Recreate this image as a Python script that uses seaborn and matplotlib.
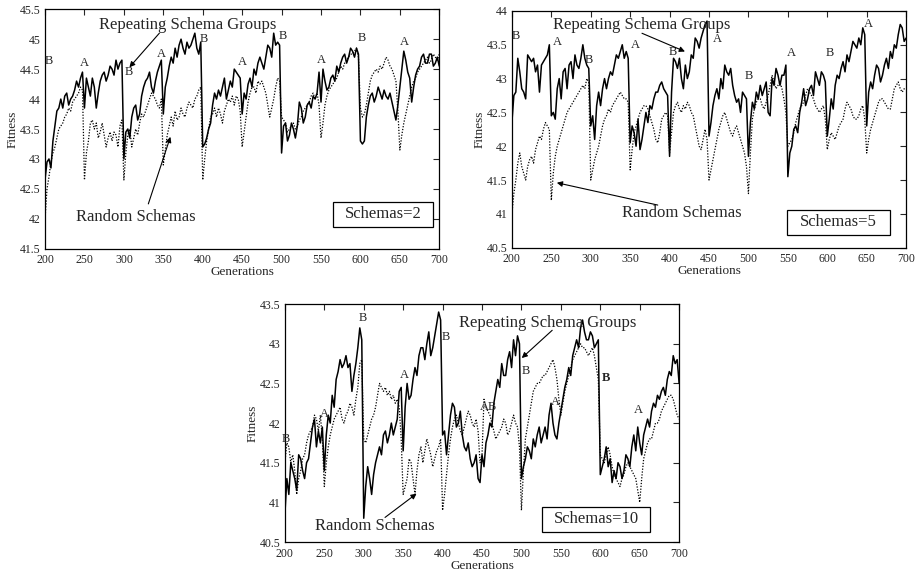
import numpy as np
import pandas as pd
import matplotlib
matplotlib.use('Agg')
import matplotlib.pyplot as plt
from matplotlib.patches import Rectangle
import seaborn as sns

# generations sampled every 5, plus in-between readings at +2.5
GENS = np.arange(200, 701, 5)
GENS_MID = np.arange(202.5, 700, 5)

S2_REPEAT = [42.66, 43.0, 43.3, 43.8, 44.0, 44.05, 43.9, 44.05, 44.3, 44.35,
             43.85, 44.2, 44.35, 43.85, 44.3, 44.45, 44.4, 44.5, 44.65, 44.6,
             43.0, 43.5, 43.7, 43.9, 43.75, 44.2, 44.35, 44.2, 44.3, 44.55,
             43.75, 44.35, 44.7, 44.85, 44.9, 44.85, 44.95, 44.9, 45.1, 44.75,
             43.2, 43.35, 43.6, 44.1, 44.15, 44.2, 44.0, 44.3, 44.5, 44.4,
             43.75, 44.0, 44.35, 44.5, 44.6, 44.6, 44.7, 44.85, 45.1, 44.95,
             43.1, 43.6, 43.4, 43.5, 43.55, 43.85, 43.7, 43.95, 44.05, 44.1,
             43.95, 44.3, 44.2, 44.4, 44.55, 44.6, 44.75, 44.7, 44.8, 44.85,
             43.3, 43.3, 43.9, 44.1, 44.05, 44.1, 44.15, 44.0, 43.95, 43.65,
             44.2, 44.8, 44.45, 43.95, 44.4, 44.55, 44.75, 44.6, 44.75, 44.6,
             44.55]
S2_REPEAT_MID = [42.95, 42.85, 43.55, 43.85, 43.85, 44.1, 44.0, 44.15, 44.2, 44.45,
                 44.35, 44.05, 44.2, 44.1, 44.4, 44.3, 44.55, 44.4, 44.5, 44.65,
                 43.45, 43.35, 43.85, 43.65, 44.05, 44.3, 44.45, 44.1, 44.45, 44.65,
                 44.2, 44.55, 44.6, 44.7, 45.0, 44.75, 44.85, 45.0, 44.85, 44.95,
                 43.25, 43.5, 43.9, 44.0, 44.05, 44.35, 44.15, 44.2, 44.45, 44.35,
                 44.1, 44.25, 44.2, 44.4, 44.7, 44.5, 44.9, 44.7, 44.9, 44.9,
                 43.55, 43.3, 43.6, 43.35, 43.95, 43.6, 43.9, 43.85, 44.0, 44.45,
                 44.5, 44.15, 44.35, 44.3, 44.45, 44.7, 44.6, 44.85, 44.7, 44.75,
                 43.25, 43.7, 44.05, 43.95, 44.2, 44.0, 44.05, 44.1, 43.8, 43.9,
                 44.5, 44.65, 44.35, 44.2, 44.5, 44.7, 44.6, 44.75, 44.55, 44.7]
S2_RANDOM = [42.0, 42.7, 43.1, 43.35, 43.55, 43.7, 43.85, 43.95, 44.05, 44.2,
             42.65, 43.3, 43.65, 43.6, 43.45, 43.4, 43.35, 43.3, 43.4, 43.55,
             42.65, 43.4, 43.2, 43.5, 43.6, 43.7, 43.9, 44.1, 44.0, 43.85,
             42.9, 43.4, 43.7, 43.8, 43.7, 43.75, 43.85, 43.9, 44.0, 44.15,
             42.65, 43.3, 43.7, 43.85, 43.85, 43.6, 43.9, 43.95, 43.9, 44.0,
             43.2, 43.7, 44.1, 44.2, 44.3, 44.3, 44.1, 43.7, 44.0, 44.35,
             43.7, 43.6, 43.5, 43.6, 43.55, 43.7, 43.85, 43.95, 44.1, 44.1,
             43.35, 43.9, 44.15, 44.25, 44.35, 44.55, 44.6, 44.7, 44.75, 44.85,
             43.85, 43.75, 44.1, 44.4, 44.5, 44.55, 44.6, 44.65, 44.5, 44.3,
             43.15, 43.6, 43.9, 44.2, 44.35, 44.5, 44.6, 44.7, 44.65, 44.7,
             44.75]
S2_RANDOM_MID = [42.5, 42.95, 43.2, 43.5, 43.6, 43.75, 43.8, 44.0, 44.1, 44.15,
                 43.1, 43.6, 43.5, 43.35, 43.6, 43.2, 43.45, 43.45, 43.2, 43.65,
                 43.1, 43.5, 43.35, 43.4, 43.75, 43.8, 44.0, 44.05, 43.9, 44.0,
                 43.15, 43.55, 43.55, 43.65, 43.85, 43.7, 43.95, 43.85, 44.05, 44.2,
                 43.0, 43.5, 43.75, 43.7, 43.75, 43.8, 44.0, 44.05, 44.05, 43.8,
                 43.45, 43.95, 44.2, 44.1, 44.25, 44.2, 43.9, 43.85, 44.2, 44.3,
                 43.65, 43.45, 43.55, 43.5, 43.65, 43.8, 43.9, 44.05, 44.0, 43.9,
                 43.6, 44.05, 44.2, 44.3, 44.45, 44.5, 44.65, 44.75, 44.8, 44.7,
                 43.7, 43.9, 44.3, 44.45, 44.45, 44.5, 44.7, 44.55, 44.4, 43.8,
                 43.4, 43.75, 44.05, 44.3, 44.45, 44.55, 44.65, 44.6, 44.75, 44.65]

S5_REPEAT = [42.35, 42.8, 43.1, 42.8, 43.35, 43.25, 43.1, 42.8, 43.25, 43.35,
             42.45, 42.4, 43.0, 43.1, 42.85, 43.25, 43.35, 43.15, 43.5, 43.2,
             42.3, 42.1, 42.8, 42.85, 42.85, 43.1, 43.2, 43.3, 43.5, 43.4,
             42.05, 42.2, 42.4, 42.1, 42.5, 42.6, 42.7, 42.8, 42.95, 42.8,
             41.85, 43.3, 43.15, 43.0, 43.2, 43.1, 43.3, 43.55, 43.6, 43.8,
             42.15, 42.6, 42.85, 43.0, 43.2, 43.05, 42.9, 42.65, 42.5, 42.75,
             41.85, 42.65, 42.8, 42.9, 42.85, 42.5, 43.0, 43.15, 42.9, 43.05,
             41.55, 42.0, 42.3, 42.5, 42.85, 42.7, 42.9, 43.1, 42.9, 43.05,
             42.15, 42.7, 42.9, 43.0, 43.25, 43.35, 43.4, 43.5, 43.6, 43.75,
             42.3, 42.95, 43.05, 43.15, 43.05, 43.3, 43.4, 43.5, 43.65, 43.75,
             43.6]
S5_REPEAT_MID = [42.75, 43.3, 42.85, 42.7, 43.3, 43.3, 43.2, 43.2, 43.3, 43.5,
                 42.5, 42.85, 42.7, 43.15, 43.2, 43.0, 43.2, 43.3, 43.3, 43.15,
                 42.45, 42.6, 42.6, 43.0, 43.0, 43.05, 43.35, 43.4, 43.3, 43.3,
                 42.3, 42.0, 41.95, 42.3, 42.35, 42.55, 42.8, 42.9, 42.85, 42.75,
                 42.8, 43.25, 43.3, 42.85, 43.0, 43.35, 43.6, 43.45, 43.7, 43.85,
                 42.35, 42.75, 42.7, 42.85, 43.1, 43.15, 42.75, 42.7, 42.8, 42.7,
                 42.35, 42.55, 42.7, 42.75, 42.95, 42.45, 42.9, 43.05, 43.05, 43.2,
                 41.9, 42.25, 42.2, 42.65, 42.6, 42.85, 42.75, 43.0, 43.1, 42.95,
                 42.4, 42.55, 43.05, 43.15, 43.1, 43.25, 43.55, 43.45, 43.5, 43.65,
                 42.8, 42.85, 43.2, 42.95, 43.2, 43.15, 43.3, 43.45, 43.8, 43.55]
S5_RANDOM = [41.0, 41.5, 41.9, 41.6, 41.7, 41.85, 41.95, 42.15, 42.25, 42.3,
             41.2, 41.85, 42.1, 42.3, 42.5, 42.6, 42.7, 42.8, 42.9, 43.0,
             41.5, 41.8, 42.0, 42.3, 42.45, 42.5, 42.65, 42.75, 42.75, 42.7,
             41.65, 42.2, 42.4, 42.55, 42.6, 42.45, 42.25, 42.05, 42.4, 42.5,
             41.9, 42.5, 42.65, 42.5, 42.55, 42.6, 42.45, 42.15, 41.95, 42.25,
             41.5, 41.8, 42.1, 42.35, 42.5, 42.3, 42.15, 42.3, 42.1, 41.9,
             41.3, 42.4, 42.65, 42.7, 42.55, 42.75, 43.05, 42.85, 42.95, 42.7,
             42.0, 42.1, 42.35, 42.55, 42.65, 42.85, 42.75, 42.6, 42.5, 42.6,
             41.95, 42.2, 42.1, 42.3, 42.4, 42.65, 42.55, 42.4, 42.45, 42.6,
             41.9, 42.25, 42.45, 42.65, 42.7, 42.6, 42.55, 42.85, 42.95, 42.8,
             42.85]
S5_RANDOM_MID = [41.3, 41.75, 41.7, 41.5, 41.8, 41.75, 42.05, 42.1, 42.35, 42.25,
                 41.6, 42.0, 42.2, 42.4, 42.55, 42.65, 42.75, 42.85, 42.85, 42.95,
                 41.65, 41.9, 42.15, 42.4, 42.55, 42.6, 42.7, 42.8, 42.7, 42.65,
                 41.95, 42.3, 42.5, 42.6, 42.55, 42.35, 42.1, 42.2, 42.45, 42.45,
                 42.2, 42.6, 42.55, 42.6, 42.65, 42.5, 42.3, 42.0, 42.1, 42.1,
                 41.65, 41.95, 42.25, 42.45, 42.4, 42.2, 42.25, 42.2, 42.0, 41.7,
                 41.9, 42.55, 42.7, 42.6, 42.65, 42.9, 42.95, 42.9, 42.85, 42.5,
                 42.05, 42.2, 42.45, 42.6, 42.75, 42.8, 42.7, 42.55, 42.55, 42.4,
                 42.1, 42.15, 42.2, 42.35, 42.55, 42.6, 42.45, 42.4, 42.55, 42.4,
                 42.1, 42.35, 42.55, 42.7, 42.65, 42.55, 42.7, 42.9, 42.85, 42.85]

S10_REPEAT = [40.85, 41.1, 41.4, 41.15, 41.55, 41.3, 41.55, 41.95, 41.7, 41.75,
              41.4, 42.1, 42.35, 42.55, 42.8, 42.75, 42.7, 42.4, 42.75, 43.2,
              40.8, 41.45, 41.1, 41.5, 41.7, 41.85, 41.75, 42.0, 41.95, 42.4,
              41.65, 42.5, 42.35, 42.7, 42.85, 42.95, 43.0, 42.85, 43.1, 43.4,
              41.85, 41.6, 42.1, 42.2, 42.0, 41.85, 41.65, 41.55, 41.5, 41.3,
              41.6, 41.75, 42.0, 42.25, 42.55, 42.75, 42.6, 42.9, 43.05, 43.1,
              41.3, 41.55, 41.65, 41.8, 41.85, 41.75, 41.95, 42.1, 42.0, 41.8,
              42.15, 42.45, 42.7, 42.85, 43.05, 43.2, 43.15, 43.05, 43.1, 43.0,
              41.35, 41.55, 41.45, 41.25, 41.3, 41.45, 41.4, 41.55, 41.7, 41.65,
              41.75, 41.85, 42.05, 42.15, 42.2, 42.3, 42.45, 42.55, 42.6, 42.75,
              42.5]
S10_REPEAT_MID = [41.3, 41.5, 41.3, 41.6, 41.4, 41.5, 41.75, 42.05, 41.9, 41.95,
                  41.85, 42.0, 42.2, 42.65, 42.7, 42.85, 42.75, 42.6, 42.95, 43.05,
                  41.2, 41.3, 41.35, 41.6, 41.6, 41.9, 41.85, 41.85, 42.05, 42.45,
                  42.2, 42.3, 42.55, 42.6, 42.95, 42.8, 43.15, 42.95, 43.25, 43.3,
                  41.9, 41.85, 42.25, 41.95, 42.15, 41.7, 41.75, 41.45, 41.6, 41.25,
                  41.45, 41.85, 41.95, 42.4, 42.45, 42.6, 42.8, 42.7, 42.85, 43.0,
                  41.45, 41.7, 41.55, 41.7, 41.95, 41.85, 41.8, 42.25, 41.85, 42.0,
                  42.3, 42.55, 42.6, 42.95, 42.95, 43.3, 43.05, 43.15, 42.95, 43.05,
                  41.45, 41.7, 41.55, 41.4, 41.5, 41.3, 41.6, 41.45, 41.85, 41.95,
                  41.6, 41.95, 41.95, 42.25, 42.35, 42.4, 42.35, 42.65, 42.85, 42.8]
S10_RANDOM = [41.5, 41.7, 41.6, 41.1, 41.4, 41.6, 41.85, 41.95, 42.05, 42.1,
              41.2, 41.7, 41.95, 42.1, 42.2, 42.0, 42.15, 42.2, 42.3, 42.75,
              41.8, 41.85, 42.05, 42.2, 42.5, 42.4, 42.35, 42.3, 42.25, 42.2,
              41.1, 41.3, 41.5, 41.1, 41.6, 41.5, 41.8, 41.6, 41.55, 41.7,
              40.9, 41.35, 41.8, 42.05, 42.0, 41.85, 42.05, 42.1, 41.95, 41.9,
              41.6, 42.2, 42.1, 41.9, 41.85, 41.95, 42.0, 41.9, 42.1, 41.95,
              40.9, 41.8, 42.1, 42.4, 42.5, 42.55, 42.6, 42.7, 42.8, 42.55,
              42.1, 42.4, 42.6, 42.8, 42.9, 43.0, 42.95, 42.85, 42.95, 42.7,
              41.6, 41.5, 41.7, 41.45, 41.3, 41.2, 41.35, 41.5, 41.4, 41.3,
              41.0, 41.55, 41.75, 41.8, 42.0, 42.05, 42.2, 42.3, 42.35, 42.2,
              42.05]
S10_RANDOM_MID = [41.75, 41.5, 41.4, 41.3, 41.55, 41.75, 41.9, 42.1, 41.9, 41.8,
                  41.5, 41.85, 42.05, 42.15, 42.05, 42.1, 42.25, 42.1, 42.45, 42.8,
                  41.75, 41.95, 42.1, 42.35, 42.45, 42.45, 42.4, 42.35, 42.3, 41.8,
                  41.2, 41.55, 41.3, 41.4, 41.7, 41.65, 41.7, 41.45, 41.65, 41.8,
                  41.1, 41.6, 41.95, 42.1, 41.9, 41.95, 42.15, 42.0, 42.05, 41.5,
                  42.3, 42.15, 42.0, 41.8, 41.9, 42.05, 41.85, 42.0, 42.0, 41.7,
                  41.4, 41.95, 42.25, 42.45, 42.5, 42.6, 42.65, 42.75, 42.7, 42.3,
                  42.25, 42.5, 42.7, 42.85, 42.95, 42.95, 42.9, 42.9, 42.85, 42.55,
                  41.55, 41.6, 41.6, 41.35, 41.25, 41.3, 41.45, 41.45, 41.35, 41.15,
                  41.3, 41.65, 41.8, 41.9, 42.0, 42.15, 42.25, 42.35, 42.3, 42.1]

SCHEMAS = ['Schemas=2', 'Schemas=5', 'Schemas=10']


def series_frame(main, mid):
    df = pd.concat([pd.DataFrame({'gen': GENS, 'fit': main}),
                    pd.DataFrame({'gen': GENS_MID, 'fit': mid})])
    return df.sort_values('gen').reset_index(drop=True)


def draw_panel(ax, rep, rep_mid, rand, rand_mid, ylim, yticks, marks, notes, box):
    sns.lineplot(data=series_frame(rand, rand_mid), x='gen', y='fit', ax=ax, color='black',
                 linestyle=(0, (1, 1.3)), linewidth=0.9, sort=False)
    sns.lineplot(data=series_frame(rep, rep_mid), x='gen', y='fit', ax=ax, color='black',
                 linewidth=1.1, sort=False)
    ax.set_xlim(200, 700)
    ax.set_ylim(*ylim)
    ax.set_xticks(range(200, 701, 50))
    ax.set_yticks(yticks)
    ax.set_yticklabels([f'{t:g}' for t in yticks])
    ax.tick_params(direction='in', top=True, right=True, labelsize=8.5, length=4, width=0.8)
    ax.tick_params(axis='x', pad=4)
    ax.tick_params(axis='y', pad=3)
    ax.set_xlabel('Generations', fontsize=9.5, labelpad=0)
    ax.set_ylabel('Fitness', fontsize=9.5, labelpad=1)
    for sp in ax.spines.values():
        sp.set_linewidth(0.9)
        sp.set_color('black')
    for g, v, t, w in marks:
        ax.text(g, v, t, fontsize=9, ha='center', va='center', fontweight=w)
    arrow = dict(arrowstyle='-|>', color='black', lw=0.8, mutation_scale=8, shrinkA=0, shrinkB=0)
    for txt, pos, start, end in notes:
        ax.text(pos[0], pos[1], txt, fontsize=12, ha='center', va='center')
        ax.annotate('', xy=end, xytext=start, arrowprops=arrow)
    (x0, x1, y0, y1), label = box
    ax.add_patch(Rectangle((x0, y0), x1 - x0, y1 - y0, fill=True, fc='white', ec='black', lw=0.9, zorder=3))
    ax.text((x0 + x1) / 2, (y0 + y1) / 2, label, fontsize=12, ha='center', va='center', zorder=4)


sns.set_style('white')
plt.rcParams['font.family'] = ['Liberation Serif', 'DejaVu Serif']

fig = plt.figure(figsize=(9.19, 5.76), dpi=100)
ax1 = fig.add_axes([0.049, 0.568, 0.429, 0.416])
ax2 = fig.add_axes([0.557, 0.570, 0.429, 0.411])
ax3 = fig.add_axes([0.310, 0.059, 0.429, 0.413])

N = 'normal'
draw_panel(ax1, S2_REPEAT, S2_REPEAT_MID, S2_RANDOM, S2_RANDOM_MID, (41.5, 45.5),
           [41.5, 42, 42.5, 43, 43.5, 44, 44.5, 45, 45.5],
           [(205, 44.63, 'B', N), (250, 44.6, 'A', N), (306, 44.45, 'B', N), (348, 44.75, 'A', N),
            (401, 45.0, 'B', N), (450, 44.62, 'A', N), (501, 45.05, 'B', N), (551, 44.65, 'A', N),
            (602, 45.02, 'B', N), (656, 44.95, 'A', N)],
           [('Repeating Schema Groups', (381, 45.24), (345, 45.1), (307, 44.53)),
            ('Random Schemas', (315, 42.03), (331, 42.25), (359, 43.37))],
           ((565.5, 692.4, 41.87, 42.28), SCHEMAS[0]))

draw_panel(ax2, S5_REPEAT, S5_REPEAT_MID, S5_RANDOM, S5_RANDOM_MID, (40.5, 44),
           [40.5, 41, 41.5, 42, 42.5, 43, 43.5, 44],
           [(205, 43.63, 'B', N), (258, 43.54, 'A', N), (298, 43.27, 'B', N), (356, 43.49, 'A', N),
            (404, 43.4, 'B', N), (460, 43.58, 'A', N), (501, 43.04, 'B', N), (555, 43.38, 'A', N),
            (603, 43.38, 'B', N), (652, 43.81, 'A', N)],
           [('Repeating Schema Groups', (365, 43.79), (365, 43.67), (419.5, 43.4)),
            ('Random Schemas', (416, 41.02), (385, 41.13), (257, 41.46))],
           ((549.4, 679, 40.69, 41.06), SCHEMAS[1]))

draw_panel(ax3, S10_REPEAT, S10_REPEAT_MID, S10_RANDOM, S10_RANDOM_MID, (40.5, 43.5),
           [40.5, 41, 41.5, 42, 42.5, 43, 43.5],
           [(201, 41.8, 'B', N), (250, 42.12, 'A', N), (299, 43.33, 'B', N), (351, 42.6, 'A', N),
            (404, 43.08, 'B', N), (453, 42.2, 'A', N), (462, 42.2, 'B', N), (505, 42.66, 'B', N),
            (543, 42.26, 'A', N), (607, 42.57, 'B', 'bold'), (648, 42.16, 'A', N)],
           [('Repeating Schema Groups', (533, 43.26), (539, 43.17), (500.4, 42.82)),
            ('Random Schemas', (314, 40.7), (327, 40.81), (367, 41.11))],
           ((525.8, 663.2, 40.63, 40.94), SCHEMAS[2]))

fig.savefig('out.png', dpi=100)
